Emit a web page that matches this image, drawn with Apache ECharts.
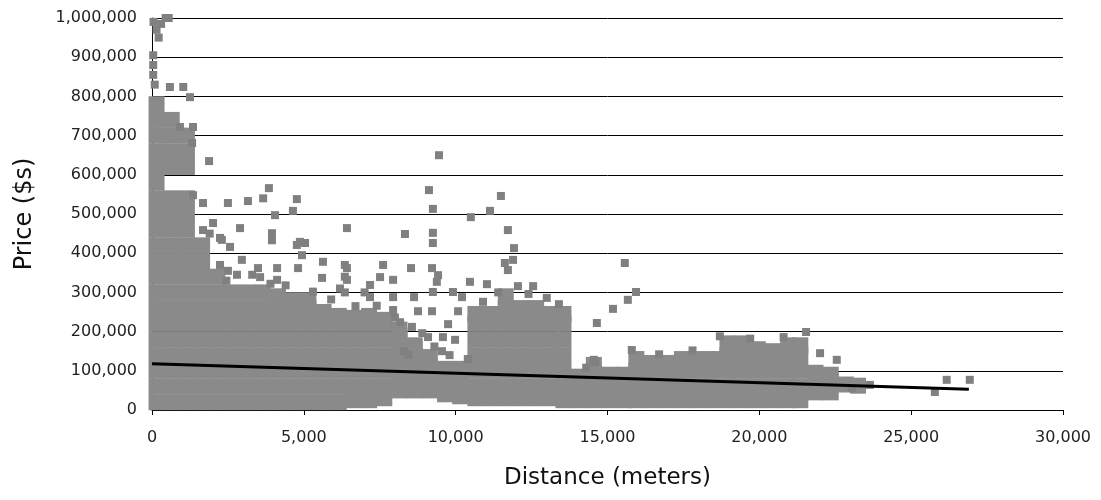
<!DOCTYPE html>
<html>
<head>
<meta charset="utf-8">
<title>Price vs distance</title>
<script src="https://cdn.jsdelivr.net/npm/echarts@6/dist/echarts.min.js"></script>
<style>
  html, body { margin: 0; padding: 0; background: #fff; }
  #chart { width: 1101px; height: 500px; }
</style>
</head>
<body>
<div id="chart"></div>
<script>
// distances in meters, prices in thousands of dollars
// dense cloud, one column of price values per distance
const denseWest = [
  [150, [20, 60, 100, 140, 180, 220, 260, 300, 340, 380, 420, 460, 500, 540, 580, 620, 660, 700, 740, 780]],
  [650, [20, 60, 100, 140, 180, 220, 260, 300, 340, 380, 420, 460, 500, 540, 620, 660, 700, 740]],
  [1150, [20, 60, 100, 140, 180, 220, 260, 300, 340, 380, 420, 460, 500, 540, 620, 660, 700]],
  [1650, [20, 60, 100, 140, 180, 220, 260, 300, 340, 380, 420]],
  [2150, [20, 60, 100, 140, 180, 220, 260, 300, 340]],
  [2650, [20, 60, 100, 140, 180, 220, 260, 300]],
  [3150, [20, 60, 100, 140, 180, 220, 260, 300]],
  [3650, [20, 60, 100, 140, 180, 220, 260, 300]],
  [4150, [20, 60, 100, 140, 180, 220, 260, 290]],
  [4650, [20, 60, 100, 140, 180, 220, 260, 280]],
  [5150, [20, 60, 100, 140, 180, 220, 260, 280]],
  [5650, [20, 60, 100, 140, 180, 220, 250]],
  [6150, [20, 60, 100, 140, 180, 220, 240]],
  [6650, [25, 60, 100, 140, 180, 220, 235]],
  [7150, [25, 60, 100, 140, 180, 220, 240]],
  [7650, [30, 60, 100, 140, 180, 220, 230]]
]
const denseCentre = [
  [8150, [50, 80, 120, 160, 190, 205]],
  [8650, [50, 85, 120, 155, 165]],
  [9150, [50, 85, 110, 135]],
  [9650, [40, 75, 105]],
  [10150, [35, 70, 105]],
  [10650, [30, 60, 100, 140, 180, 220, 245]],
  [11150, [30, 60, 100, 140, 180, 220, 245]],
  [11650, [30, 60, 100, 140, 180, 220, 260, 290]],
  [12150, [30, 60, 100, 140, 180, 220, 260]],
  [12650, [30, 60, 100, 140, 180, 220, 260]],
  [13150, [30, 60, 100, 140, 180, 220, 245]],
  [13550, [25, 60, 100, 140, 180, 220, 245]]
]
const denseEast = [
  [14050, [25, 60, 85]],
  [14550, [25, 60, 100, 115]],
  [15050, [25, 60, 90]],
  [15550, [25, 60, 90]],
  [15950, [25, 60, 100, 130]],
  [16450, [25, 60, 100, 120]],
  [16950, [25, 60, 100, 120]],
  [17450, [25, 60, 100, 130]],
  [17950, [25, 60, 100, 130]],
  [18450, [25, 60, 100, 130]],
  [18950, [25, 60, 100, 140, 170]],
  [19450, [25, 60, 100, 140, 170]],
  [19950, [25, 60, 100, 140, 155]],
  [20450, [25, 60, 100, 140, 150]],
  [20950, [25, 60, 100, 140, 165]],
  [21350, [25, 60, 100, 140, 165]],
  [21850, [45, 80, 95]],
  [22350, [45, 75, 90]],
  [22850, [65]],
  [23250, [62]]
]

// single houses outside the dense cloud and along its ragged top edge
const scatterWest = [
  [50, 990], [150, 970], [300, 985], [450, 1000], [550, 1000], [220, 950],
  [40, 905], [40, 880], [40, 855], [90, 830],
  [590, 824], [1030, 824], [1250, 798], [920, 722], [1350, 722], [1320, 681], [1880, 635],
  [1350, 548], [1680, 528], [2500, 528], [3160, 533], [3660, 540], [3850, 566], [4050, 497],
  [4640, 508], [4770, 538], [6420, 464], [2900, 464], [1680, 459], [2010, 477], [2240, 439],
  [3950, 451], [3950, 433], [4870, 429], [2300, 434], [2570, 416], [4770, 421], [5040, 426],
  [4940, 395], [2960, 383], [2240, 370], [2500, 355], [3490, 362], [3560, 339], [4120, 362],
  [4120, 332], [4810, 362], [5630, 378], [5600, 337], [6420, 362], [6420, 332], [6190, 310],
  [6350, 300], [6350, 340], [6350, 370], [7180, 319], [7180, 288], [7610, 370], [7510, 339],
  [7940, 332], [7940, 288], [7000, 300],
  [1900, 450], [2450, 330], [2800, 345], [3300, 345], [3900, 322], [4400, 318], [5300, 302],
  [5900, 282], [6700, 265], [7400, 266], [8000, 236], [8900, 196], [9300, 162], [9800, 140],
  [10400, 130], [10900, 276], [11400, 300], [12400, 296], [13000, 286], [13400, 270]
]
const scatterCentre = [
  [9450, 650], [9120, 561], [11490, 546], [9250, 513], [10500, 492], [11130, 508],
  [8330, 449], [9250, 452], [9250, 426], [11720, 459], [11920, 413], [11620, 375],
  [11890, 383], [11720, 357], [8530, 362], [9220, 362], [9420, 344], [9380, 327],
  [10470, 327], [11030, 321], [12050, 316], [12550, 316], [8630, 288], [9250, 301],
  [9910, 301], [10210, 288], [8760, 252], [9220, 252], [10080, 252], [7940, 255],
  [8170, 224], [8560, 212], [9750, 219], [9580, 186], [9980, 179], [9090, 186],
  [8300, 150], [8450, 140], [9550, 150]
]
const scatterEast = [
  [15570, 375], [15940, 301], [15670, 281], [15180, 258], [14650, 222], [15800, 153],
  [14550, 128], [14590, 122], [21540, 199], [22000, 145], [22550, 128], [23640, 64],
  [23050, 56], [25780, 46], [26170, 77], [26930, 77],
  [16700, 142], [17800, 152], [18700, 188], [19700, 182], [20800, 186], [14300, 108]
]

// fitted trend line
const trendX = [0, 26900]
const trendY = [118, 53]

const distanceMax = 30000
const distanceStep = 5000
const priceMax = 1000000
const priceStep = 100000

const fromColumns = cols => cols.flatMap(([x, ys]) => ys.map(y => [x, y * 1000]))
const fromPairs = pairs => pairs.map(([x, y]) => [x, y * 1000])

const labelFont = 'DejaVu Sans, Verdana, sans-serif'
const grey = '#8a8a8a'

const chart = echarts.init(document.getElementById('chart'))
chart.setOption({
  animation: false,
  backgroundColor: '#fff',
  grid: { left: 152, right: 38, top: 18, bottom: 90 },
  xAxis: {
    type: 'value',
    min: 0,
    max: distanceMax,
    interval: distanceStep,
    name: 'Distance (meters)',
    nameLocation: 'middle',
    nameGap: 57,
    nameTextStyle: { fontFamily: labelFont, fontSize: 23, color: '#111' },
    axisLine: { lineStyle: { color: '#000', width: 1 } },
    axisTick: { length: 5, lineStyle: { color: '#000' } },
    axisLabel: {
      fontFamily: labelFont, fontSize: 16, color: '#222', margin: 20,
      formatter: v => v.toLocaleString('en-US')
    },
    splitLine: { show: false }
  },
  yAxis: {
    type: 'value',
    min: 0,
    max: priceMax,
    interval: priceStep,
    name: 'Price ($s)',
    nameLocation: 'middle',
    nameGap: 115,
    nameTextStyle: { fontFamily: labelFont, fontSize: 24, color: '#111' },
    axisLine: { show: true, lineStyle: { color: '#000', width: 1 } },
    axisTick: { show: false },
    axisLabel: {
      fontFamily: labelFont, fontSize: 16, color: '#222', margin: 15,
      formatter: v => v.toLocaleString('en-US')
    },
    splitLine: { show: true, lineStyle: { color: '#000', width: 1 } }
  },
  series: [
    {
      type: 'scatter',
      symbol: 'rect',
      symbolSize: 16,
      itemStyle: { color: grey, opacity: 1 },
      data: fromColumns(denseWest.concat(denseCentre, denseEast)),
      silent: true,
      z: 2
    },
    {
      type: 'scatter',
      symbol: 'rect',
      symbolSize: 8,
      itemStyle: { color: '#808080', opacity: 1 },
      data: fromPairs(scatterWest.concat(scatterCentre, scatterEast)),
      silent: true,
      z: 3
    },
    {
      type: 'line',
      symbol: 'none',
      lineStyle: { color: '#000', width: 3 },
      data: trendX.map((x, i) => [x, trendY[i] * 1000]),
      silent: true,
      z: 5
    }
  ]
})
</script>
</body>
</html>
